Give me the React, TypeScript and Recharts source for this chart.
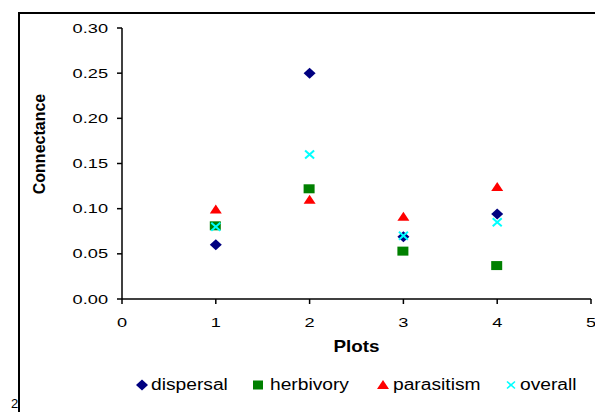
import React from 'react';
import { ScatterChart, Scatter, XAxis, YAxis } from 'recharts';

const plots = [1, 2, 3, 4];
const dispersal = [0.06, 0.25, 0.069, 0.094];
const herbivory = [0.081, 0.122, 0.053, 0.037];
const parasitism = [0.099, 0.11, 0.091, 0.124];
const overall = [0.08, 0.16, 0.07, 0.085];
const xTicks = [0, 1, 2, 3, 4, 5];
const yTicks = [0, 0.05, 0.1, 0.15, 0.2, 0.25, 0.3];
const seriesNames = ['dispersal', 'herbivory', 'parasitism', 'overall'];

const toPoints = (vals: number[]) => plots.map((p, i) => ({ x: p, y: vals[i] }));

const font = 'Liberation Sans, Arial, sans-serif';

const Diamond = ({ cx, cy }: any) => (
  <polygon points={`${cx},${cy - 5.5} ${cx + 6},${cy} ${cx},${cy + 5.5} ${cx - 6},${cy}`} fill="#000080" />
);
const Square = ({ cx, cy }: any) => (
  <rect x={cx - 6} y={cy - 4.5} width={11} height={9} fill="#008000" />
);
const Triangle = ({ cx, cy }: any) => (
  <polygon points={`${cx},${cy - 5} ${cx + 6},${cy + 4} ${cx - 6},${cy + 4}`} fill="#FF0000" />
);
const Cross = ({ cx, cy }: any) => (
  <g stroke="#00FFFF" strokeWidth={2}>
    <line x1={cx - 4.5} y1={cy - 4} x2={cx + 4.5} y2={cy + 4} />
    <line x1={cx - 4.5} y1={cy + 4} x2={cx + 4.5} y2={cy - 4} />
  </g>
);

const XTick = ({ x, y, payload }: any) => (
  <text transform={`translate(${x},${y}) scale(1.4,1)`} textAnchor="middle" dy="0.71em" fontSize={13} fontFamily={font} fill="#000">
    {payload.value}
  </text>
);
const YTick = ({ x, y, payload }: any) => (
  <text transform={`translate(${x},${y}) scale(1.4,1)`} textAnchor="end" dy="0.355em" fontSize={13} fontFamily={font} fill="#000">
    {Number(payload.value).toFixed(2)}
  </text>
);

const PlotsLabel = ({ viewBox }: any) => (
  <text
    transform={`translate(${viewBox.x + viewBox.width / 2},352) scale(1.18,1)`}
    textAnchor="middle"
    fontSize={16}
    fontWeight="bold"
    fontFamily={font}
    fill="#000"
  >
    Plots
  </text>
);
const ConnLabel = () => (
  <text
    transform="translate(45,144) rotate(-90)"
    textAnchor="middle"
    fontSize={16}
    fontWeight="bold"
    fontFamily={font}
    fill="#000"
  >
    Connectance
  </text>
);

const legendIcons = [
  <polygon points="6,0.5 12,6 6,11.5 0,6" fill="#000080" />,
  <rect x={1} y={1.5} width={10} height={9} fill="#008000" />,
  <polygon points="6,1 12,10 0,10" fill="#FF0000" />,
  <g stroke="#00FFFF" strokeWidth={1.6}>
    <line x1={2} y1={2.5} x2={10} y2={9.5} />
    <line x1={2} y1={9.5} x2={10} y2={2.5} />
  </g>,
];
const legendIconX = [136, 252, 377, 505];
const legendTextX = [151, 270, 393, 520];

const ChartLegend = () => (
  <>
    {seriesNames.map((name, i) => (
      <React.Fragment key={name}>
        <svg width={12} height={12} style={{ position: 'absolute', left: legendIconX[i], top: 379 }}>
          {legendIcons[i]}
        </svg>
        <span
          style={{
            position: 'absolute',
            left: legendTextX[i],
            top: 376,
            fontFamily: font,
            fontSize: 16,
            color: '#000',
            whiteSpace: 'nowrap',
            transform: 'scaleX(1.2)',
            transformOrigin: 'left center',
          }}
        >
          {name}
        </span>
      </React.Fragment>
    ))}
  </>
);

export default function App() {
  const series = [dispersal, herbivory, parasitism, overall];
  const shapes = [<Diamond />, <Square />, <Triangle />, <Cross />];
  return (
    <div style={{ position: 'fixed', left: 0, top: 0, width: 595, height: 412, background: '#fff', overflow: 'hidden' }}>
      <div
        style={{
          position: 'absolute',
          left: 18,
          top: 12,
          width: 600,
          height: 420,
          borderLeft: '2px solid #000',
          borderTop: '2px solid #000',
        }}
      />
      <div style={{ position: 'absolute', left: 11, top: 396, fontFamily: font, fontSize: 13 }}>2</div>
      <div style={{ position: 'absolute', left: 0, top: 0 }}>
        <ScatterChart width={595} height={412} margin={{ top: 28, right: 4, bottom: 0, left: 0 }}>
          <XAxis
            type="number"
            dataKey="x"
            domain={[0, 5]}
            ticks={xTicks}
            interval={0}
            axisLine={{ stroke: '#000', strokeWidth: 1.5 }}
            tickLine={{ stroke: '#000', strokeWidth: 1.5 }}
            tickSize={5}
            tickMargin={14}
            tick={<XTick />}
            height={113}
            label={<PlotsLabel />}
          />
          <YAxis
            type="number"
            dataKey="y"
            domain={[0, 0.3]}
            ticks={yTicks}
            interval={0}
            width={122}
            axisLine={{ stroke: '#000', strokeWidth: 1.5 }}
            tickLine={{ stroke: '#000', strokeWidth: 1.5 }}
            tickSize={5}
            tickMargin={9}
            tick={<YTick />}
            label={<ConnLabel />}
          />
          {series.map((vals, i) => (
            <Scatter
              key={seriesNames[i]}
              name={seriesNames[i]}
              data={toPoints(vals)}
              shape={shapes[i]}
              isAnimationActive={false}
            />
          ))}
        </ScatterChart>
      </div>
      <ChartLegend />
    </div>
  );
}
